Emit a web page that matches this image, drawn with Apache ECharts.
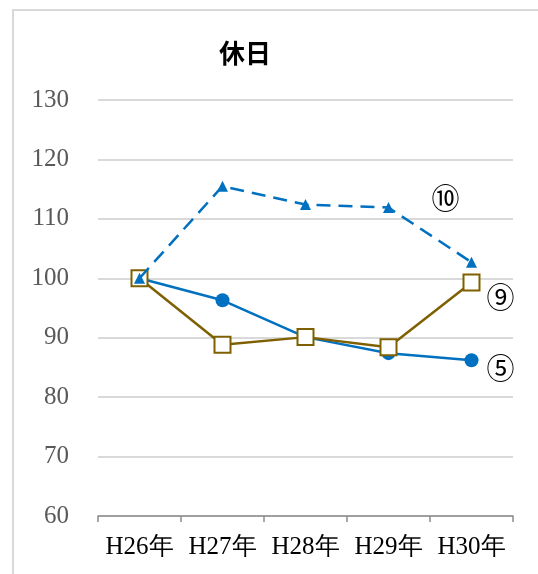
<!DOCTYPE html>
<html>
<head>
<meta charset="utf-8">
<script src="https://cdn.jsdelivr.net/npm/echarts@6/dist/echarts.min.js"></script>
<style>
  html, body { margin: 0; padding: 0; background: #fff; }
  #frame { position: absolute; left: 12px; top: 9px; width: 540px; height: 580px; border: 2px solid #d9d9d9; box-sizing: border-box; }
  #chart { position: absolute; left: 0; top: 0; width: 538px; height: 574px; }
</style>
</head>
<body>
<div id="frame"></div>
<div id="chart"></div>
<script>
// 年度別の指数（H26年 = 100）
var categories = ['H26年', 'H27年', 'H28年', 'H29年', 'H30年'];
var series5 = [100, 96.3, 90.1, 87.4, 86.2];
var series9 = [100, 88.8, 90.1, 88.4, 99.3];
var series10 = [100, 115.5, 112.4, 111.9, 102.7];
var yTicks = { min: 60, max: 130, interval: 10 };

var blue = '#0070C0';
var brown = '#7F6000';
var serif = '"Liberation Serif", "DejaVu Serif", serif';
var circled = '"Noto Sans CJK JP", "DejaVu Sans", sans-serif';

function lastLabel(values, text, offset, withBg) {
  return values.map(function (v, i) {
    if (i !== values.length - 1) return v;
    var lbl = {
      show: true,
      position: 'inside',
      offset: offset,
      formatter: text,
      color: '#000',
      fontFamily: circled,
      fontWeight: 'normal',
      fontSize: 28
    };
    if (withBg) {
      lbl.backgroundColor = '#fff';
      lbl.padding = [0, 3];
    }
    return { value: v, label: lbl };
  });
}

var chart = echarts.init(document.getElementById('chart'), null, { renderer: 'canvas' });
chart.setOption({
  animation: false,
  backgroundColor: 'transparent',
  title: {
    text: '休日',
    left: 240,
    top: 35,
    textAlign: 'center',
    textStyle: { fontFamily: '"Noto Sans CJK JP", sans-serif', fontSize: 26, fontWeight: 'bold', color: '#000' }
  },
  grid: { left: 98, right: 25, top: 100, bottom: 58, containLabel: false },
  xAxis: {
    type: 'category',
    data: categories,
    boundaryGap: true,
    axisLine: { lineStyle: { color: '#8c8c8c', width: 1.5 } },
    axisTick: { show: true, interval: 0, length: 6, lineStyle: { color: '#8c8c8c', width: 1.5 } },
    axisLabel: { interval: 0, hideOverlap: false, color: '#000', fontFamily: serif, fontSize: 25, margin: 19 }
  },
  yAxis: {
    type: 'value',
    min: yTicks.min,
    max: yTicks.max,
    interval: yTicks.interval,
    axisLine: { show: false },
    axisTick: { show: false },
    splitLine: { lineStyle: { color: '#d9d9d9', width: 2 } },
    axisLabel: { color: '#595959', fontFamily: serif, fontSize: 25, margin: 29 }
  },
  series: [
    {
      name: '⑤',
      type: 'line',
      data: lastLabel(series5, '⑤', [29, 8], false),
      symbol: 'circle',
      symbolSize: 14,
      lineStyle: { color: blue, width: 2.5 },
      itemStyle: { color: blue, borderWidth: 0 },
      z: 2
    },
    {
      name: '⑨',
      type: 'line',
      data: lastLabel(series9, '⑨', [29, 15], false),
      symbol: 'rect',
      symbolSize: 16,
      lineStyle: { color: brown, width: 2.5 },
      itemStyle: { color: '#fff', borderColor: brown, borderWidth: 2 },
      z: 3
    },
    {
      name: '⑩',
      type: 'line',
      data: lastLabel(series10, '⑩', [-26, -64], true),
      symbol: 'triangle',
      symbolSize: 11,
      lineStyle: { color: blue, width: 2.5, type: [14, 8] },
      itemStyle: { color: blue, borderWidth: 0 },
      z: 4
    }
  ]
});
</script>
</body>
</html>
